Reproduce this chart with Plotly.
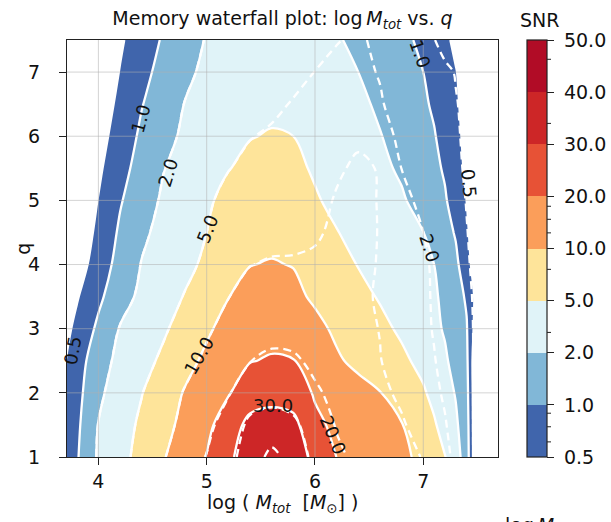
import numpy as np
import plotly.graph_objects as go

# ---- grid of the waterfall map -------------------------------------------
log_mtot = [3.6, 3.8, 4.0, 4.2, 4.4, 4.6, 4.8, 5.0, 5.2, 5.4, 5.6, 5.8, 6.0,
            6.2, 6.4, 6.6, 6.8, 7.0, 7.1, 7.2, 7.3, 7.4, 7.5, 7.6, 7.8]
q_vals = [1.0, 1.5, 2.0, 2.5, 3.0, 3.5, 4.0, 4.5, 5.0, 5.5, 6.0, 6.5, 7.0, 7.5]

# SNR on the grid (rows follow q_vals, columns follow log_mtot), filled map
snr_main = [
    [0.42, 0.95, 2.36, 4.13, 6.55, 9.7, 14.9, 20.4, 28.4, 34.5, 37.0, 35.0, 27.6, 19.9, 17.2, 14.5, 11.9, 8.9, 7.05, 5.2, 3.2, 1.5, 0, 0, 0],
    [0.37, 0.9, 2.09, 3.8, 5.85, 8.6, 12.5, 17.5, 25.5, 32.5, 33.5, 33.0, 22.0, 18.1, 15.5, 12.9, 10.4, 7.15, 5.5, 3.95, 2.45, 1.42, 0, 0, 0],
    [0.32, 0.84, 1.82, 3.35, 4.91, 7.65, 10.7, 15.0, 19.3, 25.5, 27.2, 25.0, 19.1, 16.2, 13.2, 10.3, 7.85, 5.5, 4.28, 3.08, 1.94, 1.31, 0, 0, 0],
    [0.24, 0.77, 1.58, 2.78, 4.1, 5.85, 8.6, 11.8, 15.5, 19.6, 20.8, 20.3, 15.8, 11.2, 8.9, 7.4, 5.9, 4.25, 3.32, 2.36, 1.7, 1.2, 0, 0, 0],
    [0.15, 0.62, 1.19, 2.18, 3.41, 4.64, 6.8, 9.35, 13.0, 16.0, 17.1, 16.0, 12.5, 9.2, 7.65, 6.1, 4.58, 3.23, 2.54, 1.92, 1.5, 1.08, 0.2, 0, 0],
    [0.01, 0.46, 0.9, 1.61, 2.63, 3.89, 5.25, 7.55, 9.9, 13.0, 13.7, 12.2, 9.3, 7.75, 6.25, 4.79, 3.8, 2.81, 2.3, 1.83, 1.39, 0.94, 0.31, 0, 0],
    [0, 0.26, 0.74, 1.33, 2.12, 3.26, 4.37, 5.8, 7.6, 9.9, 10.5, 9.85, 7.95, 6.4, 4.91, 4.07, 3.26, 2.42, 2.0, 1.6, 1.2, 0.72, 0.17, 0, 0],
    [0, 0.15, 0.62, 1.14, 1.83, 2.81, 3.92, 5.0, 7.5, 8.6, 8.9, 8.25, 6.75, 5.15, 4.31, 3.56, 2.81, 2.03, 1.68, 1.32, 0.96, 0.58, 0.2, 0, 0],
    [0, 0.09, 0.52, 0.96, 1.58, 2.39, 3.5, 4.61, 6.25, 7.4, 7.7, 7.0, 5.4, 4.43, 3.71, 2.99, 2.3, 1.66, 1.37, 1.09, 0.8, 0.5, 0.21, 0, 0],
    [0, 0, 0.42, 0.84, 1.36, 1.97, 2.93, 3.92, 4.91, 6.0, 6.45, 5.9, 4.73, 4.01, 3.29, 2.54, 1.88, 1.42, 1.19, 0.95, 0.69, 0.42, 0.15, 0, 0],
    [0, 0, 0.32, 0.72, 1.17, 1.74, 2.45, 3.26, 4.1, 4.91, 5.25, 5.0, 4.28, 3.56, 2.84, 2.12, 1.66, 1.26, 1.06, 0.84, 0.62, 0.39, 0.15, 0, 0],
    [0, 0, 0.24, 0.61, 0.98, 1.51, 2.09, 2.9, 3.65, 4.25, 4.55, 4.4, 3.95, 3.35, 2.6, 1.85, 1.49, 1.13, 0.94, 0.75, 0.56, 0.37, 0.15, 0, 0],
    [0, 0, 0.17, 0.52, 0.86, 1.31, 1.82, 2.54, 3.2, 3.71, 3.95, 3.8, 3.35, 2.75, 2.0, 1.67, 1.33, 1.0, 0.84, 0.68, 0.52, 0.35, 0.15, 0, 0],
    [0, 0, 0.13, 0.44, 0.75, 1.1, 1.6, 2.18, 2.75, 3.14, 3.35, 3.2, 2.84, 2.24, 1.81, 1.51, 1.21, 0.91, 0.74, 0.58, 0.42, 0.25, 0.1, 0, 0],
]

# SNR of the comparison model, drawn as dashed contours
snr_compare = [
    [0.42, 0.95, 2.36, 4.13, 6.55, 9.7, 14.9, 20.4, 27.5, 34.0, 43.0, 36.0, 27.4, 21.7, 18.1, 15.3, 12.6, 9.8, 7.95, 6.1, 4.4, 2.9, 1.8, 0, 0],
    [0.37, 0.9, 2.09, 3.8, 5.85, 8.6, 12.5, 17.5, 24.2, 32.0, 33.0, 32.0, 25.2, 19.4, 16.6, 13.8, 11.0, 8.15, 6.7, 5.3, 4.01, 2.75, 1.83, 0, 0],
    [0.32, 0.84, 1.82, 3.35, 4.91, 7.65, 10.7, 15.0, 19.3, 25.5, 27.5, 25.5, 21.1, 18.0, 15.0, 12.0, 9.2, 6.95, 5.8, 4.7, 3.65, 2.63, 1.86, 0, 0],
    [0.24, 0.77, 1.58, 2.78, 4.1, 5.85, 8.6, 11.8, 15.5, 19.8, 21.5, 21.2, 18.3, 15.6, 12.9, 10.3, 8.2, 6.2, 5.2, 4.28, 3.41, 2.54, 1.88, 0, 0],
    [0.15, 0.62, 1.19, 2.18, 3.41, 4.64, 6.8, 9.35, 13.0, 16.2, 17.5, 16.8, 15.0, 13.5, 12.0, 9.9, 7.9, 5.85, 4.85, 4.04, 3.26, 2.48, 1.89, 0, 0],
    [0.01, 0.46, 0.9, 1.61, 2.63, 3.89, 5.25, 7.55, 9.9, 13.0, 14.0, 13.3, 12.2, 11.5, 10.8, 9.8, 7.8, 5.75, 4.76, 3.98, 3.17, 2.39, 1.87, 0, 0],
    [0, 0.26, 0.74, 1.33, 2.12, 3.26, 4.37, 5.8, 7.6, 9.9, 10.8, 11.2, 11.4, 11.5, 11.2, 9.85, 7.75, 5.65, 4.67, 3.86, 3.05, 2.24, 1.81, 0, 0],
    [0, 0.15, 0.62, 1.14, 1.83, 2.81, 3.92, 5.0, 7.5, 8.6, 8.75, 8.6, 9.5, 11.5, 12.0, 9.85, 7.4, 5.02, 4.28, 3.53, 2.81, 2.06, 1.82, 0, 0],
    [0, 0.09, 0.52, 0.96, 1.58, 2.39, 3.5, 4.61, 6.25, 7.4, 7.7, 7.75, 8.5, 10.75, 12.0, 9.8, 6.35, 4.28, 3.71, 3.11, 2.54, 1.98, 1.5, 0, 0],
    [0, 0, 0.42, 0.84, 1.36, 1.97, 2.93, 3.92, 4.91, 6.0, 6.5, 6.75, 7.5, 9.4, 11.5, 9.75, 4.97, 3.92, 3.38, 2.87, 2.33, 1.93, 1.5, 0, 0],
    [0, 0, 0.32, 0.72, 1.17, 1.74, 2.45, 3.26, 4.1, 4.91, 5.5, 5.75, 6.5, 7.75, 9.25, 6.0, 4.67, 3.68, 3.17, 2.69, 2.21, 1.9, 1.5, 0, 0],
    [0, 0, 0.24, 0.61, 0.98, 1.51, 2.09, 2.9, 3.65, 4.25, 4.55, 5.25, 6.0, 6.5, 6.5, 5.25, 4.34, 3.44, 2.99, 2.54, 2.09, 1.88, 1.5, 0, 0],
    [0, 0, 0.17, 0.52, 0.86, 1.31, 1.82, 2.54, 3.2, 3.71, 3.95, 4.4, 5.05, 5.75, 5.6, 4.91, 4.01, 3.17, 2.75, 2.33, 1.97, 1.6, 1.3, 0, 0],
    [0, 0, 0.13, 0.44, 0.75, 1.1, 1.6, 2.18, 2.75, 3.14, 3.35, 3.65, 4.25, 4.91, 5.5, 4.55, 3.47, 2.51, 2.06, 1.8, 1.5, 1.2, 1.0, 0, 0],
]

snr_levels = [0.5, 1.0, 2.0, 5.0, 10.0, 20.0, 30.0, 40.0, 50.0]
level_text = ["0.5", "1.0", "2.0", "5.0", "10.0", "20.0", "30.0", "40.0", "50.0"]
band_colors = ["#4065ac", "#81b7d7", "#e0f3f8", "#fee49a",
               "#fb9e5a", "#e75236", "#cd2627", "#b10c26"]

# minor ticks on the colour bar, in band units (0 = 0.5, 8 = 50)
bar_minor = [0.29, 0.58, 0.84, 2.39, 3.6, 4.3, 4.56, 4.81, 6.4, 7.63]

x_ticks = [4, 5, 6, 7]
y_ticks = [1, 2, 3, 4, 5, 6, 7]

# inline contour labels: (log M, q, level text, rotation)
contour_tags = [
    (3.765, 2.67, "0.5", -80),
    (4.39, 6.28, "1.0", -75),
    (4.64, 5.44, "2.0", -73),
    (5.01, 4.56, "5.0", -68),
    (4.93, 2.58, "10.0", -60),
    (5.61, 1.80, "30.0", 0),
    (6.17, 1.34, "20.0", 67),
    (7.06, 4.25, "2.0", 72),
    (7.42, 5.26, "0.5", 85),
    (6.97, 7.29, "1.0", 70),
]

FONT = "DejaVu Sans"
INK = "#111111"


def to_band(snr):
    """Map SNR onto evenly spaced band coordinates (level i -> i, SNR 0 -> -1)."""
    return np.interp(np.asarray(snr, dtype=float), [0.0] + snr_levels,
                     np.arange(-1, len(snr_levels)))


n_lev = len(snr_levels)
z_main = to_band(snr_main)
z_cmp = to_band(snr_compare)

# contour fill colours: below the first level is blank, then one colour per band
fill_cols = ["#ffffff"] + band_colors + [band_colors[-1]]
fill_scale = [[i / n_lev, c] for i, c in enumerate(fill_cols)]

fig = go.Figure()

fig.add_trace(go.Contour(
    x=log_mtot, y=q_vals, z=z_main,
    colorscale=fill_scale, showscale=False,
    contours=dict(start=0, end=n_lev - 1, size=1, coloring="fill", showlines=True),
    line=dict(color="white", width=2.3, smoothing=1.0),
    hoverinfo="skip",
))

fig.add_trace(go.Contour(
    x=log_mtot, y=q_vals, z=z_cmp,
    showscale=False,
    contours=dict(start=2, end=n_lev - 2, size=1, coloring="none"),
    line=dict(color="white", width=2.3, dash="8px,5px", smoothing=1.0),
    hoverinfo="skip",
))

# colour bar with one block per SNR band
bar_scale = []
for k, c in enumerate(band_colors):
    bar_scale += [[k / len(band_colors), c], [(k + 1) / len(band_colors), c]]

plot_w = 611 - 67 - 113
cb_x = (527 - 67) / plot_w
cb_thick = 20

fig.add_trace(go.Scatter(
    x=[0], y=[0], mode="markers", showlegend=False, hoverinfo="skip",
    marker=dict(
        color=[0], colorscale=bar_scale, cmin=0, cmax=n_lev - 1, showscale=True,
        colorbar=dict(
            x=cb_x, xanchor="left", xpad=0, y=0.5, yanchor="middle", ypad=0,
            len=1, lenmode="fraction", thickness=cb_thick, thicknessmode="pixels",
            outlinewidth=1.2, outlinecolor="#222",
            tickvals=list(range(n_lev)),
            ticktext=["\u00a0" + t for t in level_text],
            ticks="outside", ticklen=7, tickwidth=1.2, tickcolor="#222",
            tickfont=dict(family=FONT, size=19, color=INK),
        ),
    ),
))

shapes = []
grid_line = dict(color="rgba(176,176,176,0.55)", width=1)
for xv in x_ticks:
    shapes.append(dict(type="line", xref="x", yref="paper", x0=xv, x1=xv,
                       y0=0, y1=1, line=grid_line, layer="above"))
for yv in y_ticks[1:]:
    shapes.append(dict(type="line", xref="paper", yref="y", x0=0, x1=1,
                       y0=yv, y1=yv, line=grid_line, layer="above"))
# contour lines echoed on the colour bar
cb_right = cb_x + cb_thick / plot_w
for k in range(1, n_lev - 1):
    yk = k / (n_lev - 1)
    shapes.append(dict(type="line", xref="paper", yref="paper",
                       x0=cb_x, x1=cb_right, y0=yk, y1=yk,
                       line=dict(color="white", width=2), layer="above"))
for m in bar_minor:
    ym = m / (n_lev - 1)
    shapes.append(dict(type="line", xref="paper", yref="paper",
                       x0=cb_right, x1=cb_right + 4 / plot_w, y0=ym, y1=ym,
                       line=dict(color="#222", width=1), layer="above"))

annotations = []
for xv, qv, txt, ang in contour_tags:
    annotations.append(dict(x=xv, y=qv, xref="x", yref="y", text=txt,
                            showarrow=False, textangle=ang,
                            xanchor="center", yanchor="middle",
                            font=dict(family=FONT, size=18, color=INK)))

annotations += [
    dict(x=0.5, y=-0.112, xref="paper", yref="paper", showarrow=False,
         text="log ( <i>M</i><sub><i>tot</i></sub>  [<i>M</i><sub>⊙</sub>] )",
         xanchor="center", yanchor="middle",
         font=dict(family=FONT, size=19, color=INK)),
    dict(x=-0.104, y=0.5, xref="paper", yref="paper", showarrow=False,
         text="q", textangle=-90, xanchor="center", yanchor="middle",
         font=dict(family=FONT, size=19, color=INK)),
    dict(x=(539 - 67) / plot_w, y=1.048, xref="paper", yref="paper",
         showarrow=False, text="SNR", xanchor="center", yanchor="middle",
         font=dict(family=FONT, size=19, color=INK)),
    dict(x=(503 - 67) / plot_w, y=-0.133, xref="paper", yref="paper",
         showarrow=False, xanchor="left", yanchor="top",
         text="log\u2009<i>M</i><sub><i>tot</i></sub>",
         font=dict(family=FONT, size=19, color=INK)),
]

axis_common = dict(
    showgrid=False, zeroline=False, showline=True, mirror=True,
    linecolor="#222", linewidth=1.3, ticks="outside", ticklen=7,
    tickwidth=1.2, tickcolor="#222",
    tickfont=dict(family=FONT, size=19, color=INK),
)

fig.update_layout(
    width=611, height=522,
    margin=dict(l=67, r=113, t=40, b=65, autoexpand=False),
    paper_bgcolor="white", plot_bgcolor="white",
    showlegend=False,
    title=dict(
        text="Memory waterfall plot: log\u2009<i>M</i><sub><i>tot</i></sub> vs. <i>q</i>",
        x=0.5, xref="paper", xanchor="center",
        y=1 - 18 / 522, yref="container", yanchor="middle",
        font=dict(family=FONT, size=19, color=INK),
    ),
    xaxis=dict(range=[3.71, 7.69], tickvals=x_ticks, **axis_common),
    yaxis=dict(range=[1.0, 7.5], tickvals=y_ticks, ticklabelstandoff=15,
               **axis_common),
    shapes=shapes,
    annotations=annotations,
)

fig.write_html("out.html")
